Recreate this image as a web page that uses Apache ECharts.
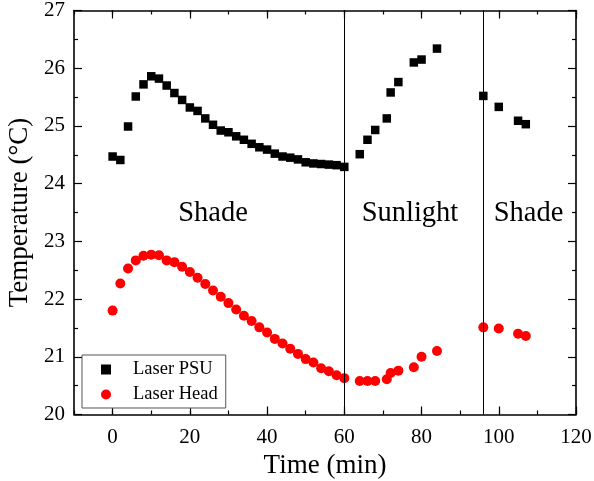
<!DOCTYPE html>
<html>
<head>
<meta charset="utf-8">
<script src="https://cdn.jsdelivr.net/npm/echarts@6/dist/echarts.min.js"></script>
<style>html,body{margin:0;padding:0;background:#fff;}#c{width:594px;height:481px;}</style>
</head>
<body>
<div id="c"></div>
<script>
const psuTime = [0,2,4,6,8,10,12,14,16,18,20,22,24,26,28,30,32,34,36,38,40,42,44,46,48,50,52,54,56,58,60,
  64,66,68,71,72,74,78,80,84,96,100,105,107];
const psuTemp = [24.47,24.41,24.99,25.51,25.72,25.86,25.82,25.70,25.57,25.45,25.32,25.26,25.13,25.02,24.92,24.89,24.82,24.76,24.69,24.63,24.59,24.52,24.47,24.45,24.42,24.37,24.35,24.34,24.33,24.32,24.29,
  24.51,24.76,24.93,25.13,25.58,25.76,26.10,26.15,26.34,25.52,25.33,25.09,25.03];
const headTime = [0,2,4,6,8,10,12,14,16,18,20,22,24,26,28,30,32,34,36,38,40,42,44,46,48,50,52,54,56,58,60,
  64,66,68,71,72,74,78,80,84,96,100,105,107];
const headTemp = [21.80,22.27,22.53,22.67,22.75,22.77,22.76,22.67,22.64,22.56,22.47,22.37,22.26,22.15,22.04,21.93,21.82,21.71,21.62,21.51,21.42,21.31,21.23,21.14,21.05,20.96,20.90,20.80,20.75,20.68,20.63,
  20.58,20.58,20.58,20.61,20.72,20.76,20.82,21.00,21.10,21.51,21.49,21.40,21.36];
const xTicks = [0, 20, 40, 60, 80, 100, 120];
const dividers = [60, 96];
const regionLabels = ['Shade', 'Sunlight', 'Shade'];
const xTitle = 'Time (min)';
const yTitle = 'Temperature (\u00B0C)';
const seriesNames = ['Laser PSU', 'Laser Head'];

const FONT = 'Liberation Serif';
const chart = echarts.init(document.getElementById('c'), null, {renderer: 'canvas'});
const lineOn = {show: true, onZero: false, lineStyle: {color: '#000', width: 1.6}};
const tickStyle = {color: '#000', width: 1.2};
function xMajor(pos, withLabels) {
  const a = {
    type: 'value', min: -10, max: 120, interval: 10, position: pos,
    axisLine: lineOn,
    axisTick: {show: true, inside: true, length: 8, customValues: xTicks, lineStyle: tickStyle},
    splitLine: {show: false},
    axisLabel: withLabels ? {fontFamily: FONT, fontSize: 21, color: '#000', margin: 12, customValues: xTicks} : {show: false}
  };
  if (withLabels) {
    a.name = xTitle; a.nameLocation = 'middle'; a.nameGap = 36;
    a.nameTextStyle = {fontFamily: FONT, fontSize: 27, color: '#000'};
  }
  return a;
}
function xMinor(pos) {
  return {
    type: 'value', min: -10, max: 120, interval: 10, position: pos,
    axisLine: {show: false},
    axisTick: {show: true, inside: true, length: 4, lineStyle: tickStyle},
    splitLine: {show: false}, axisLabel: {show: false}
  };
}
function yAxisDef(pos, withLabels) {
  const a = {
    type: 'value', min: 20, max: 27, interval: 1, position: pos,
    axisLine: lineOn,
    axisTick: {show: true, inside: true, length: 8, lineStyle: tickStyle},
    minorTick: {show: true, splitNumber: 2, length: 4, lineStyle: tickStyle},
    splitLine: {show: false},
    axisLabel: withLabels ? {fontFamily: FONT, fontSize: 21, color: '#000', margin: 9} : {show: false}
  };
  if (withLabels) {
    a.name = yTitle; a.nameLocation = 'middle'; a.nameGap = 41; a.nameRotate = 90;
    a.nameTextStyle = {fontFamily: FONT, fontSize: 27, color: '#000'};
  }
  return a;
}
const option = {
  animation: false,
  backgroundColor: '#fff',
  grid: {left: 74, right: 18, top: 10.5, bottom: 66.5, containLabel: false, outerBoundsMode: 'none'},
  xAxis: [xMajor('bottom', true), xMinor('bottom'), xMajor('top', false), xMinor('top')],
  yAxis: [yAxisDef('left', true), yAxisDef('right', false)],
  legend: {
    orient: 'vertical', left: 82, top: 355,
    backgroundColor: '#fff',
    borderColor: '#555', borderWidth: 1,
    padding: [5, 8, 4, 19],
    itemWidth: 10, itemHeight: 10, itemGap: 6,
    textStyle: {fontFamily: FONT, fontSize: 18.5, color: '#000', padding: [0, 0, 0, 17]},
    data: [
      {name: seriesNames[0], icon: 'rect'},
      {name: seriesNames[1], icon: 'circle'}
    ]
  },
  series: [
    {
      name: seriesNames[0], type: 'scatter', symbol: 'rect', symbolSize: 8.5,
      xAxisIndex: 0, yAxisIndex: 0,
      itemStyle: {color: '#000', opacity: 1},
      data: psuTime.map((t, i) => [t, psuTemp[i]]),
      markLine: {
        silent: true, symbol: 'none', label: {show: false},
        lineStyle: {color: '#000', width: 1, type: 'solid'},
        data: dividers.map(d => ({xAxis: d}))
      },
      z: 3
    },
    {
      name: seriesNames[1], type: 'scatter', symbol: 'circle', symbolSize: 10,
      xAxisIndex: 0, yAxisIndex: 0,
      itemStyle: {color: '#ff0000', opacity: 1},
      data: headTime.map((t, i) => [t, headTemp[i]]),
      z: 3
    }
  ]
};
chart.setOption(option);

// region labels placed by data coordinates
const labelX = [26, 77, 107.7];
const labelY = 23.48;
const g = regionLabels.map((txt, i) => {
  const p = chart.convertToPixel({xAxisIndex: 0, yAxisIndex: 0}, [labelX[i], labelY]);
  return {type: 'text', x: p[0], y: p[1], style: {text: txt, fontFamily: FONT, fontSize: 28.5, fill: '#000', align: 'center', verticalAlign: 'middle'}, z: 10};
});
chart.setOption({graphic: g});
</script>
</body>
</html>
